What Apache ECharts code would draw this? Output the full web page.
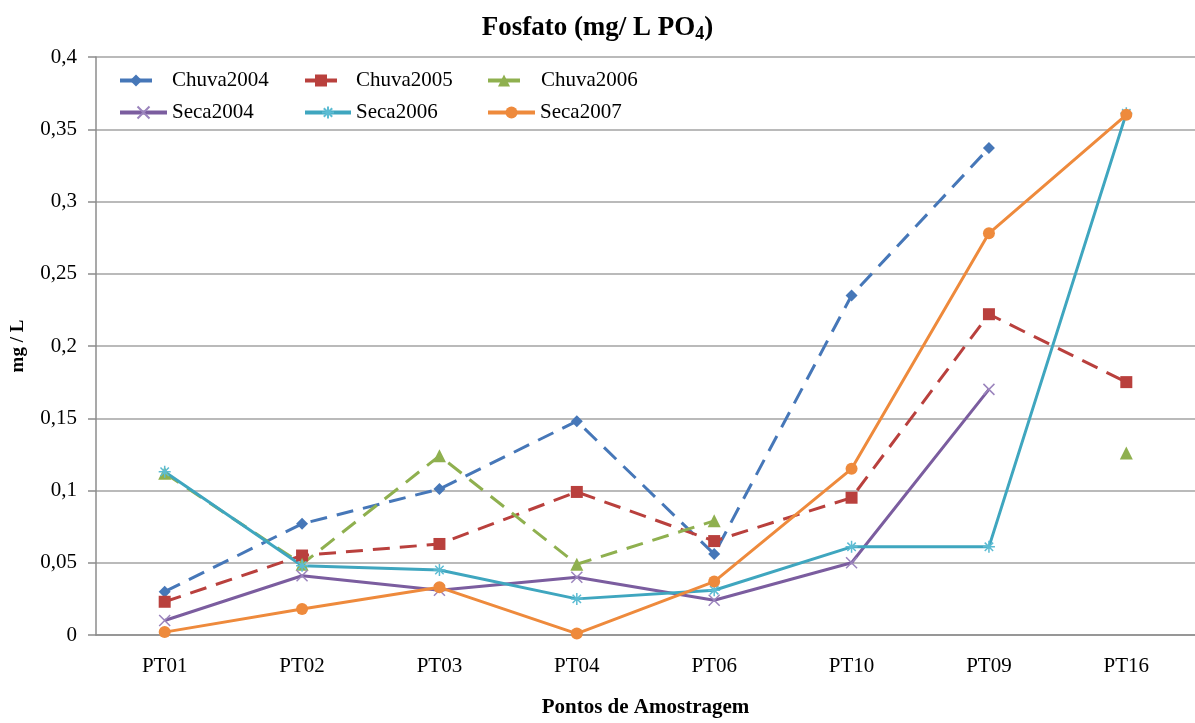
<!DOCTYPE html>
<html>
<head>
<meta charset="utf-8">
<script src="https://cdn.jsdelivr.net/npm/echarts@6/dist/echarts.min.js"></script>
<style>
  html, body { margin: 0; padding: 0; background: #ffffff; }
  #chart { width: 1195px; height: 723px; }
</style>
</head>
<body>
<div id="chart"></div>
<script>
// Sampling points along the x axis
const categories = ['PT01', 'PT02', 'PT03', 'PT04', 'PT06', 'PT10', 'PT09', 'PT16'];

// Phosphate concentration (mg/L PO4) per campaign; null = not sampled
const chuva2004 = [0.030, 0.077, 0.101, 0.148, 0.056, 0.235, 0.337, null];
const chuva2005 = [0.023, 0.055, 0.063, 0.099, 0.065, 0.095, 0.222, 0.175];
const chuva2006 = [0.112, 0.049, 0.124, 0.049, 0.079, null, null, 0.126];
const seca2004  = [0.010, 0.041, 0.031, 0.040, 0.024, 0.050, 0.170, null];
const seca2006  = [0.113, 0.048, 0.045, 0.025, 0.031, 0.061, 0.061, 0.361];
const seca2007  = [0.002, 0.018, 0.033, 0.001, 0.037, 0.115, 0.278, 0.360];

const yTicks = { min: 0, max: 0.4, interval: 0.05 };

const FONT = '"Liberation Serif", "Times New Roman", serif';
const C = {
  blue: '#4677b8', red: '#b9403d', green: '#8fb04f',
  purple: '#7b5d9f', teal: '#3fa6bf', orange: '#ee8a3c'
};

const crossPath = 'path://M0,0L10,10M10,0L0,10';
const starPath = 'path://M5,0L5,10M0,5L10,5M1.5,1.5L8.5,8.5M8.5,1.5L1.5,8.5';

function dashed(name, data, color, symbol, size) {
  return {
    name, type: 'line', data, symbol, symbolSize: size, connectNulls: false,
    lineStyle: { color, width: 3, type: [17, 10] },
    itemStyle: { color },
    emphasis: { disabled: true }
  };
}
function solid(name, data, color, symbol, size, stroked) {
  const s = {
    name, type: 'line', data, symbol, symbolSize: size, connectNulls: false,
    lineStyle: { color, width: 3 },
    itemStyle: { color },
    emphasis: { disabled: true }
  };
  if (stroked) s.itemStyle = { color: 'none', borderColor: stroked, borderWidth: 1.5 };
  return s;
}

const series = [
  dashed('Chuva2004', chuva2004, C.blue, 'diamond', 12),
  dashed('Chuva2005', chuva2005, C.red, 'rect', 12),
  dashed('Chuva2006', chuva2006, C.green, 'triangle', 13),
  solid('Seca2004', seca2004, C.purple, crossPath, 11, '#9b84bd'),
  solid('Seca2006', seca2006, C.teal, starPath, 12, '#5cbcd3'),
  solid('Seca2007', seca2007, C.orange, 'circle', 12)
];

// one legend box per entry, laid out in two rows of three
function legendItem(name, left, top, itemWidth, textPad) {
  return {
    data: [name], left, top, itemWidth, itemHeight: 15, padding: 0,
    selectedMode: false,
    lineStyle: { type: 'solid', width: 4 },
    textStyle: { fontFamily: FONT, fontSize: 21, color: '#000', padding: [0, 0, 0, textPad] }
  };
}

const option = {
  backgroundColor: '#ffffff',
  animation: false,
  title: {
    text: '{a|Fosfato (mg/ L PO}{s|4}{a|)}',
    left: 'center', top: 8,
    textStyle: {
      rich: {
        a: { fontFamily: FONT, fontWeight: 'bold', fontSize: 27, color: '#000' },
        s: { fontFamily: FONT, fontWeight: 'bold', fontSize: 18, color: '#000', padding: [12, 0, 0, 0] }
      }
    }
  },
  legend: [
    legendItem('Chuva2004', 118, 70, 32, 15),
    legendItem('Chuva2005', 303, 70, 32, 14),
    legendItem('Chuva2006', 486, 70, 32, 16),
    legendItem('Seca2004', 118, 102, 47, 0),
    legendItem('Seca2006', 303, 102, 46, 0),
    legendItem('Seca2007', 486, 102, 47, 0)
  ],
  grid: { left: 96, top: 57, width: 1111, bottom: 80, containLabel: false },
  xAxis: {
    type: 'category', data: categories, boundaryGap: true,
    name: 'Pontos de Amostragem', nameLocation: 'middle', nameGap: 62,
    nameTextStyle: { fontFamily: FONT, fontWeight: 'bold', fontSize: 21, color: '#000' },
    axisLine: { lineStyle: { color: '#8c8c8c', width: 1.5 } },
    axisTick: { show: false },
    axisLabel: { fontFamily: FONT, fontSize: 21, color: '#000', margin: 21 }
  },
  yAxis: {
    type: 'value', min: yTicks.min, max: yTicks.max, interval: yTicks.interval,
    name: 'mg / L', nameLocation: 'middle', nameGap: 68, nameRotate: 90,
    nameTextStyle: { fontFamily: FONT, fontWeight: 'bold', fontSize: 19, color: '#000' },
    axisLine: { show: true, lineStyle: { color: '#8c8c8c', width: 1.5 } },
    axisTick: { show: true, inside: false, length: 8, lineStyle: { color: '#8c8c8c', width: 1.5 } },
    splitLine: { lineStyle: { color: '#a3a3a3', width: 1.5 } },
    axisLabel: {
      fontFamily: FONT, fontSize: 21, color: '#000', margin: 19,
      formatter: v => String(Math.round(v * 100) / 100).replace('.', ',')
    }
  },
  series
};

const chart = echarts.init(document.getElementById('chart'), null, { renderer: 'canvas' });
chart.setOption(option);
</script>
</body>
</html>
